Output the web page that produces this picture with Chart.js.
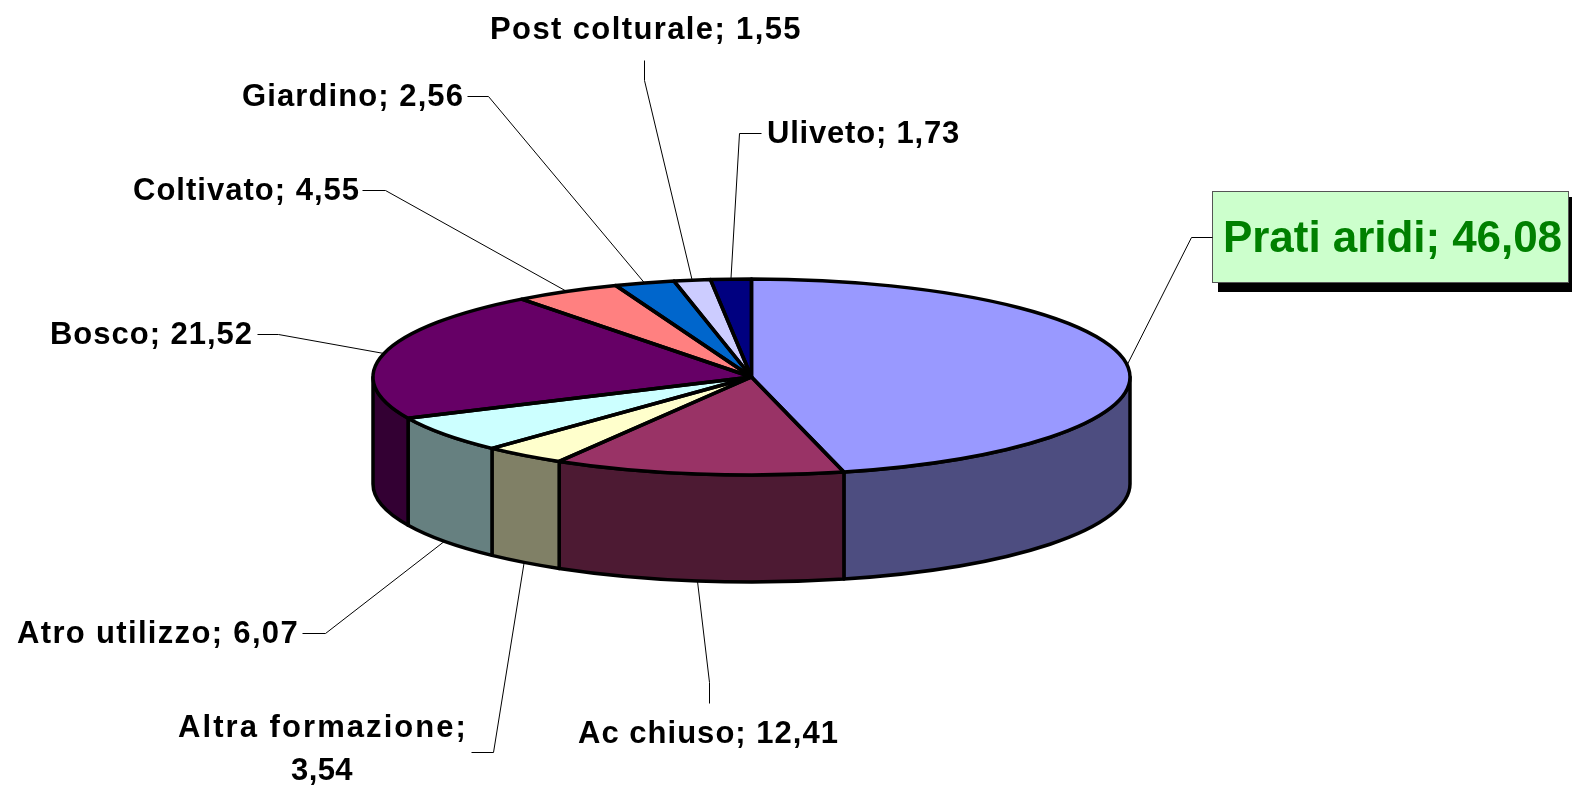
<!DOCTYPE html>
<html>
<head>
<meta charset="utf-8">
<style>
    html, body { margin: 0; padding: 0; background: #ffffff; overflow: hidden; }
    canvas { display: block; }
</style>
<script src="https://cdn.jsdelivr.net/npm/chart.js@4"></script>
</head>
<body>
<canvas id="pieChart" width="1572" height="785"></canvas>
<script>
// --- DATA ---
const categories = ['Prati aridi', 'Ac chiuso', 'Altra formazione', 'Atro utilizzo', 'Bosco', 'Coltivato', 'Giardino', 'Post colturale', 'Uliveto'];
const values = [46.08, 12.41, 3.54, 6.07, 21.52, 4.55, 2.56, 1.55, 1.73];
const topColors = ['#9999ff', '#993366', '#ffffcc', '#ccffff', '#660066', '#ff8080', '#0066cc', '#ccccff', '#000080'];
const sideColors = ['#4d4d80', '#4d1a33', '#808066', '#668080', '#330033', '#804040', '#003366', '#666680', '#000040'];

// --- LOOK OF THE FLATTENED PIE ---
const pieCenterY = 377;
const pieRadiusY = 98;
const pieDepth = 107;
const FONT = '"Liberation Sans", Arial, sans-serif';

// text box per category: left, right, baseline, then the two bend points of the leader
const labelLayout = [
    { left: 1223, right: 1562, base: 252, size: 44, color: '#008000', from: [1212, 237], bend: [1191, 237] },
    { left: 578, right: 839, base: 743, size: 31, from: [709, 703], bend: [709, 682] },
    { left: 178, right: 468, base: 737, size: 31, from: [471, 752], bend: [493, 752], wrap: [291, 353, 780] },
    { left: 17, right: 299, base: 643, size: 31, from: [302, 633], bend: [325, 633] },
    { left: 50, right: 253, base: 344, size: 31, from: [257, 334], bend: [278, 334] },
    { left: 133, right: 360, base: 200, size: 31, from: [362, 190], bend: [385, 190] },
    { left: 242, right: 464, base: 106, size: 31, from: [467, 96], bend: [488, 96] },
    { left: 490, right: 802, base: 39, size: 31, from: [644, 60], bend: [644, 80] },
    { left: 767, right: 960, base: 143, size: 31, from: [761, 133], bend: [739, 133] }
];

function fmt(v) {
    return v.toFixed(2).replace('.', ',');
}

// draws a string so it fills the width it has in the reference
function fitText(ctx, text, left, right, base) {
    ctx.letterSpacing = '0px';
    const spare = (right - left) - ctx.measureText(text).width;
    ctx.letterSpacing = (spare / text.length) + 'px';
    ctx.fillText(text, left, base);
    ctx.letterSpacing = '0px';
}

// --- PLUGIN: 3D WALLS, OUTLINES AND LABELS AROUND THE LIBRARY'S ARCS ---
const flatPie = {
    id: 'flatPie',
    beforeDatasetsDraw(chart) {
        const ctx = chart.ctx;
        const arcs = chart.getDatasetMeta(0).data;
        const cx = arcs[0].x;
        const rx = arcs[0].outerRadius;

        ctx.save();
        ctx.lineWidth = 3.5;
        ctx.lineJoin = 'round';
        ctx.strokeStyle = '#000000';
        arcs.forEach((arc, i) => {
            const a = Math.max(arc.startAngle, 0);
            const b = Math.min(arc.endAngle, Math.PI);
            if (b <= a) return;
            ctx.beginPath();
            ctx.ellipse(cx, pieCenterY, rx, pieRadiusY, 0, a, b);
            ctx.ellipse(cx, pieCenterY + pieDepth, rx, pieRadiusY, 0, b, a, true);
            ctx.closePath();
            ctx.fillStyle = sideColors[i];
            ctx.fill();
            ctx.stroke();
        });
        ctx.restore();

        // squash what the library draws next into the top face
        ctx.save();
        ctx.translate(cx, pieCenterY);
        ctx.scale(1, pieRadiusY / rx);
        ctx.translate(-cx, -arcs[0].y);
    },
    afterDatasetsDraw(chart) {
        const ctx = chart.ctx;
        ctx.restore();

        const arcs = chart.getDatasetMeta(0).data;
        const cx = arcs[0].x;
        const rx = arcs[0].outerRadius;

        ctx.save();
        ctx.lineWidth = 3.5;
        ctx.lineJoin = 'round';
        ctx.strokeStyle = '#000000';
        arcs.forEach(arc => {
            ctx.beginPath();
            ctx.moveTo(cx, pieCenterY);
            ctx.ellipse(cx, pieCenterY, rx, pieRadiusY, 0, arc.startAngle, arc.endAngle);
            ctx.closePath();
            ctx.stroke();
        });
        ctx.restore();

        // Prati aridi gets the boxed label
        ctx.save();
        ctx.fillStyle = '#000000';
        ctx.fillRect(1218, 197, 354, 95);
        ctx.fillStyle = '#ccffcc';
        ctx.fillRect(1212, 191, 357, 92);
        ctx.strokeStyle = '#555555';
        ctx.lineWidth = 1;
        ctx.strokeRect(1212.5, 191.5, 356, 91);
        ctx.restore();

        // leaders start on the slice's mid angle, on the lower rim for front slices
        ctx.save();
        ctx.strokeStyle = '#000000';
        ctx.lineWidth = 1;
        arcs.forEach((arc, i) => {
            const mid = (arc.startAngle + arc.endAngle) / 2;
            const ax = cx + rx * Math.cos(mid);
            let ay = pieCenterY + pieRadiusY * Math.sin(mid);
            if (Math.sin(mid) > 0 && i > 0) ay += pieDepth;
            const l = labelLayout[i];
            ctx.beginPath();
            ctx.moveTo(l.from[0] + 0.5, l.from[1] + 0.5);
            ctx.lineTo(l.bend[0] + 0.5, l.bend[1] + 0.5);
            ctx.lineTo(ax, ay);
            ctx.stroke();
        });
        ctx.restore();

        ctx.save();
        ctx.textBaseline = 'alphabetic';
        ctx.textAlign = 'left';
        categories.forEach((name, i) => {
            const l = labelLayout[i];
            ctx.font = 'bold ' + l.size + 'px ' + FONT;
            ctx.fillStyle = l.color || '#000000';
            if (l.wrap) {
                fitText(ctx, name + ';', l.left, l.right, l.base);
                fitText(ctx, fmt(values[i]), l.wrap[0], l.wrap[1], l.wrap[2]);
            } else {
                fitText(ctx, name + '; ' + fmt(values[i]), l.left, l.right, l.base);
            }
        });
        ctx.restore();
    }
};

// --- CHART ---
new Chart(document.getElementById('pieChart').getContext('2d'), {
    type: 'pie',
    data: {
        labels: categories,
        datasets: [{
            data: values,
            backgroundColor: topColors,
            borderWidth: 0
        }]
    },
    options: {
        responsive: false,
        animation: false,
        layout: { padding: { left: 373, right: 442, top: 14, bottom: 14 } },
        plugins: {
            legend: { display: false },
            tooltip: { enabled: false }
        }
    },
    plugins: [flatPie]
});
</script>
</body>
</html>
